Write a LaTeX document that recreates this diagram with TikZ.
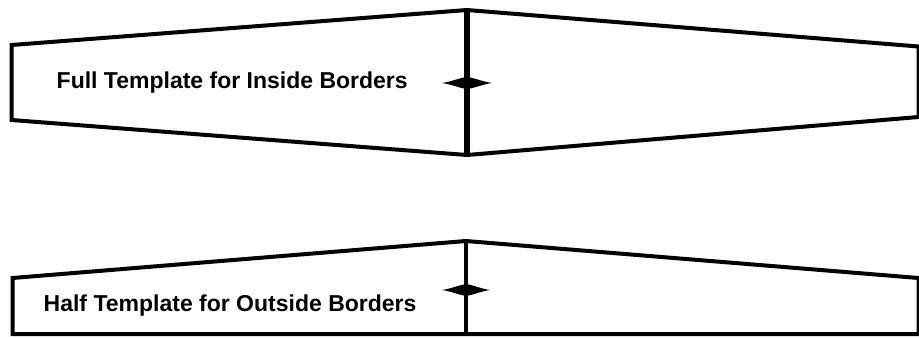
\documentclass[tikz,border=0pt]{standalone}
\usepackage{fontspec}
\setmainfont{Liberation Sans}
\begin{document}
\begin{tikzpicture}[x=1bp,y=-1bp,
  outline/.style={draw=black,line width=4bp,line join=miter},
  divider/.style={draw=black,line width=5.5bp},
  star/.style={fill=black},
  label/.style={inner sep=0pt,anchor=base west,font=\fontsize{23bp}{27bp}\selectfont\bfseries,text=black}]
\useasboundingbox (0,0) rectangle (919,337);
% top (full) template
\coordinate (tl) at (11.5,45);
\coordinate (tapex) at (467,10);
\coordinate (tr) at (918.5,46.5);
\coordinate (br) at (918.5,117);
\coordinate (bapex) at (467,155);
\coordinate (bl) at (11.5,120);
\draw[outline] (tl) -- (tapex) -- (tr) -- (br) -- (bapex) -- (bl) -- cycle;
\draw[divider] (tapex) -- (bapex);
\fill[star] (442,83) .. controls (452,81.5) and (459,78) .. (467,77) .. controls (475,78) and (482,81.5) .. (492,83) .. controls (482,84.5) and (475,88) .. (467,89) .. controls (459,88) and (452,84.5) .. (442,83) -- cycle;
\node[label] (full) at (56.5,88) {Full Template for Inside Borders};
% bottom (half) template
\coordinate (htl) at (12.5,278);
\coordinate (hapex) at (466,241);
\coordinate (htr) at (918.5,278);
\coordinate (hbr) at (918.5,334);
\coordinate (hbl) at (12.5,334);
\draw[outline] (htl) -- (hapex) -- (htr) -- (hbr) -- (hbl) -- cycle;
\coordinate (hbase) at (466,334);
\draw[divider,line width=4.5bp] (hapex) -- (hbase);
\fill[star] (442,290) .. controls (452,288.5) and (459,285) .. (466,284) .. controls (473,285) and (480,288.5) .. (490,290) .. controls (480,291.5) and (473,295) .. (466,296) .. controls (459,295) and (452,291.5) .. (442,290) -- cycle;
\node[label] (half) at (43.5,311) {Half Template for Outside Borders};
\end{tikzpicture}
\end{document}
